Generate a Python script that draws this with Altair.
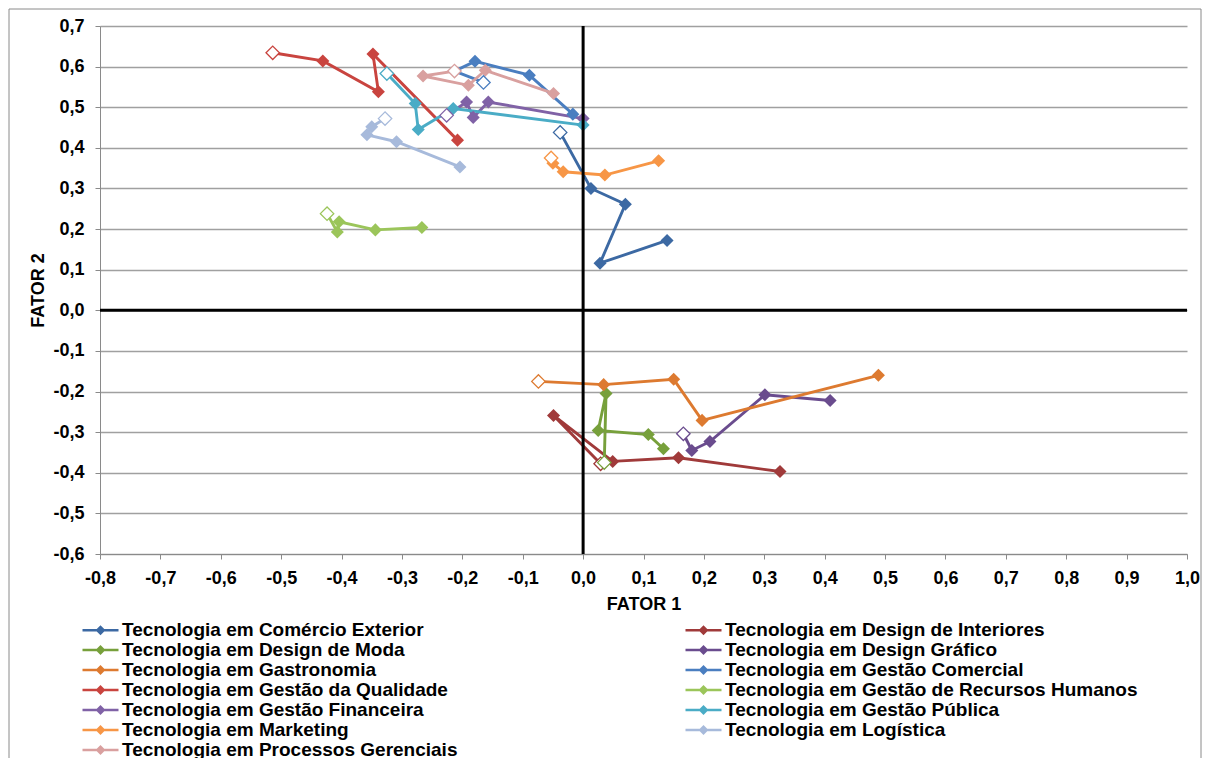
import altair as alt
import pandas as pd

# Series names (legend order, row-major in two columns)
series_names = [
    "Tecnologia em Comércio Exterior",
    "Tecnologia em Design de Interiores",
    "Tecnologia em Design de Moda",
    "Tecnologia em Design Gráfico",
    "Tecnologia em Gastronomia",
    "Tecnologia em Gestão Comercial",
    "Tecnologia em Gestão da Qualidade",
    "Tecnologia em Gestão de Recursos Humanos",
    "Tecnologia em Gestão Financeira",
    "Tecnologia em Gestão Pública",
    "Tecnologia em Marketing",
    "Tecnologia em Logística",
    "Tecnologia em Processos Gerenciais",
]
series_colors = [
    "#3C69A3", "#A03A3A", "#77A03B", "#6A4C8E", "#DD7A30", "#4A7EC0", "#C9443F",
    "#9BC55A", "#8062A6", "#4AACC6", "#F79646", "#A7BADB", "#D9A09F",
]

# FATOR 1 (x) and FATOR 2 (y) per series; first point is the hollow one
comex_x = [-0.038, 0.013, 0.070, 0.028, 0.139]
comex_y = [0.438, 0.300, 0.261, 0.116, 0.172]
interiores_x = [0.029, -0.049, 0.049, 0.158, 0.326]
interiores_y = [-0.378, -0.259, -0.372, -0.363, -0.397]
moda_x = [0.035, 0.038, 0.025, 0.108, 0.133]
moda_y = [-0.375, -0.205, -0.296, -0.306, -0.341]
grafico_x = [0.166, 0.180, 0.210, 0.301, 0.409]
grafico_y = [-0.304, -0.345, -0.323, -0.208, -0.222]
gastro_x = [-0.074, 0.034, 0.150, 0.197, 0.489]
gastro_y = [-0.175, -0.183, -0.170, -0.271, -0.160]
comercial_x = [-0.165, -0.213, -0.179, -0.089, -0.017]
comercial_y = [0.561, 0.589, 0.613, 0.579, 0.483]
qualidade_x = [-0.514, -0.431, -0.339, -0.348, -0.208]
qualidade_y = [0.634, 0.614, 0.538, 0.631, 0.419]
rh_x = [-0.424, -0.407, -0.404, -0.344, -0.267]
rh_y = [0.238, 0.193, 0.218, 0.198, 0.204]
financeira_x = [-0.226, -0.193, -0.182, -0.157, 0.000]
financeira_y = [0.480, 0.513, 0.475, 0.513, 0.472]
publica_x = [-0.325, -0.278, -0.273, -0.215, 0.000]
publica_y = [0.583, 0.509, 0.445, 0.497, 0.456]
marketing_x = [-0.053, -0.050, -0.033, 0.036, 0.125]
marketing_y = [0.375, 0.362, 0.341, 0.333, 0.368]
logistica_x = [-0.328, -0.350, -0.358, -0.309, -0.204]
logistica_y = [0.472, 0.452, 0.432, 0.415, 0.353]
processos_x = [-0.213, -0.265, -0.190, -0.162, -0.049]
processos_y = [0.589, 0.577, 0.554, 0.591, 0.534]

all_x = [comex_x, interiores_x, moda_x, grafico_x, gastro_x, comercial_x, qualidade_x,
         rh_x, financeira_x, publica_x, marketing_x, logistica_x, processos_x]
all_y = [comex_y, interiores_y, moda_y, grafico_y, gastro_y, comercial_y, qualidade_y,
         rh_y, financeira_y, publica_y, marketing_y, logistica_y, processos_y]

x_ticks = [round(-0.8 + 0.1 * i, 1) for i in range(19)]
y_ticks = [round(-0.6 + 0.1 * i, 1) for i in range(14)]

rows = []
for name, xs, ys in zip(series_names, all_x, all_y):
    for i, (xv, yv) in enumerate(zip(xs, ys)):
        rows.append({"serie": name, "idx": i, "x": xv, "y": yv})
df = pd.DataFrame(rows)

FONT = "Liberation Sans"
label_expr = "replace(replace(format(datum.value, '.1f'), '.', ','), '\u2212', '-')"

legend_path = ("M-2.25,-0.16H2.25V0.16H-2.25Z "
               "M0,-0.62L0.62,0L0,0.62L-0.62,0Z")

color = alt.Color(
    "serie:N",
    scale=alt.Scale(domain=series_names, range=series_colors),
    legend=alt.Legend(
        orient="none", legendX=-9, legendY=594.5, columns=2, columnPadding=227,
        direction="horizontal",
        rowPadding=0, symbolType=legend_path, symbolSize=256, symbolStrokeWidth=0,
        symbolOpacity=1, labelFontSize=19, labelFontWeight="bold", labelFont=FONT,
        labelColor="black", labelLimit=700, labelOffset=12, title=None, padding=0,
    ),
)

xenc = alt.X(
    "x:Q",
    scale=alt.Scale(domain=[-0.8, 1.0], nice=False, zero=False),
    axis=alt.Axis(
        values=x_ticks, labelExpr=label_expr, grid=False, title="FATOR 1",
        domainColor="#8A8A8A", tickColor="#8A8A8A", tickSize=5, labelPadding=10,
        titlePadding=8, labelFlush=False,
    ),
)
yenc = alt.Y(
    "y:Q",
    scale=alt.Scale(domain=[-0.6, 0.7], nice=False, zero=False),
    axis=alt.Axis(
        values=y_ticks, labelExpr=label_expr, grid=True, gridColor="#A0A0A0",
        gridWidth=1.3, title="FATOR 2", domainColor="#8A8A8A", tickColor="#8A8A8A",
        tickSize=5, labelPadding=11, titlePadding=5, labelFlush=False,
    ),
)

base = alt.Chart(df).encode(x=xenc, y=yenc, color=color)

lines = base.mark_line(strokeWidth=2.9).encode(order="idx:Q")
filled = base.transform_filter("datum.idx > 0").mark_point(
    shape="diamond", filled=True, size=170, opacity=1
)
hollow = base.transform_filter("datum.idx == 0").mark_point(
    shape="diamond", filled=False, fill="white", size=180, strokeWidth=1.3, opacity=1
)

zero_df = pd.DataFrame({"z": [0.0]})
vrule = alt.Chart(zero_df).mark_rule(color="black", strokeWidth=3).encode(x=alt.X("z:Q"))
hrule = alt.Chart(zero_df).mark_rule(color="black", strokeWidth=3).encode(y=alt.Y("z:Q"))

frame = alt.Chart(zero_df).mark_rect(fillOpacity=0, stroke="#8A8A8A", strokeWidth=1).encode(
    x=alt.value(-91), x2=alt.value(1101), y=alt.value(-17), y2=alt.value(800)
)

chart = alt.layer(frame, lines, filled, hollow, vrule, hrule).properties(
    width=1087, height=528,
    autosize=alt.AutoSizeParams(type="none"),
    padding={"left": 92, "top": 18, "right": 15, "bottom": 204},
).configure_view(stroke=None).configure_axis(
    labelFont=FONT, labelFontSize=18, labelFontWeight="bold", labelColor="black",
    titleFont=FONT, titleFontSize=18, titleFontWeight="bold", titleColor="black",
)

chart.save("out.html", embed_options={"renderer": "svg", "actions": False})
